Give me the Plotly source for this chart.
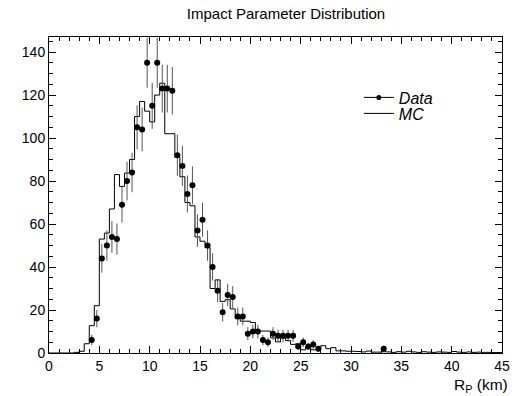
import plotly.graph_objects as go
import numpy as np

# ---- data ----
bin_width = 0.5
mc_vals = [0, 0, 0, 0,
           0, 0.3, 0.8, 4.3, 12.7, 22,
           53, 55.8, 67, 83, 77.5, 83.7, 90, 110, 117, 112.5,
           107.5, 120, 125.5, 102, 102, 91, 82, 70, 68.5, 54,
           52, 49, 30, 34, 24, 24.8, 20.5, 16, 14.8, 14.8,
           14.2, 10, 10.2, 10.2, 7, 5.2, 7, 5.8, 4, 4.3,
           1.5, 2.8, 1.5, 1.5, 3.4, 2.0, 2.5, 1.0, 1.0, 0.8,
           0.8, 0.7, 0.5, 0.9, 0.4, 0.4, 0.6, 0.5, 0.3, 0.6,
           0.4, 0.8, 0.5, 0.3, 0.6, 0.4, 0.3, 0.5, 0.4, 0.3,
           0.7, 0.4, 0.3, 0.5, 0.3, 0.4, 0.3, 0.3, 0.2, 0.2]

data_x = [4.25, 4.75, 5.25, 5.75, 6.25, 6.75, 7.25, 7.75, 8.25, 8.75,
          9.25, 9.75, 10.25, 10.75, 11.25, 11.75, 12.25, 12.75, 13.25, 13.75,
          14.25, 14.75, 15.25, 15.75, 16.25, 16.75, 17.25, 17.75, 18.25, 18.75,
          19.25, 19.75, 20.25, 20.75, 21.25, 21.75, 22.25, 22.75, 23.25, 23.75,
          24.25, 24.75, 25.25, 25.75, 26.25, 26.75, 33.25]
data_y = [6, 16, 44, 50, 54, 53, 69, 80, 84, 105,
          104, 135, 115, 135, 123, 123, 122, 92, 87, 74,
          78, 57, 62, 50, 40, 29, 19, 27, 26, 17,
          17, 9, 10, 10, 6, 5, 9, 8, 8, 8,
          8, 3, 5, 3, 4, 2, 2]

x_range = [0, 45]
y_range = [0, 147]

# ---- build ----
edges = [i * bin_width for i in range(len(mc_vals) + 1)]
mc_y = list(mc_vals) + [mc_vals[-1]]
data_err = list(np.sqrt(np.array(data_y, dtype=float)))

FONT = "Liberation Sans, Arial, sans-serif"

fig = go.Figure()

fig.add_trace(go.Scatter(
    x=edges, y=mc_y, mode="lines", line=dict(shape="hv", color="black", width=1),
    name="MC", showlegend=False))

fig.add_trace(go.Scatter(
    x=data_x, y=data_y, mode="markers",
    marker=dict(color="black", size=6),
    error_y=dict(type="data", array=data_err, visible=True, color="#555", thickness=1, width=0),
    name="Data", showlegend=False))

# legend entries (two single-item legends for tight spacing)
fig.add_trace(go.Scatter(x=[None], y=[None], mode="lines+markers",
                         line=dict(color="black", width=1), marker=dict(color="black", size=5),
                         name="Data", legend="legend"))
fig.add_trace(go.Scatter(x=[None], y=[None], mode="lines",
                         line=dict(color="black", width=1), name="MC", legend="legend2"))

axis_common = dict(showgrid=False, zeroline=False, showline=True, linecolor="black",
                   linewidth=1, mirror="allticks", ticks="inside", tickcolor="black",
                   tickwidth=1, tickfont=dict(family=FONT, size=14, color="black"))

fig.update_xaxes(range=x_range, dtick=5, ticklen=7,
                 minor=dict(dtick=1, ticks="inside", ticklen=4, tickcolor="black"),
                 **axis_common)
fig.update_yaxes(range=y_range, dtick=20, ticklen=7,
                 minor=dict(dtick=5, ticks="inside", ticklen=4, tickcolor="black"),
                 **axis_common)

fig.add_annotation(text="R<sub>P</sub> (km)", xref="paper", yref="paper", x=1.0, y=0,
                   xanchor="right", yanchor="top", yshift=-21, xshift=8, showarrow=False,
                   font=dict(family=FONT, size=15.5, color="black"))

leg_common = dict(xanchor="left", yanchor="middle", bgcolor="rgba(0,0,0,0)", borderwidth=0,
                  font=dict(family=FONT, size=16, color="black", style="italic"),
                  itemwidth=30)

fig.update_layout(
    width=520, height=396,
    margin=dict(l=49, r=10, t=37, b=43),
    paper_bgcolor="white", plot_bgcolor="white",
    title=dict(text="Impact Parameter Distribution", x=286 / 520, xanchor="center",
               y=1 - 14 / 396, yanchor="middle",
               font=dict(family=FONT, size=15, color="black")),
    legend=dict(x=0.684, y=(353 - 97.5) / 316, **leg_common),
    legend2=dict(x=0.684, y=(353 - 113.5) / 316, **leg_common),
    showlegend=True,
)

fig.write_html("out.html")
